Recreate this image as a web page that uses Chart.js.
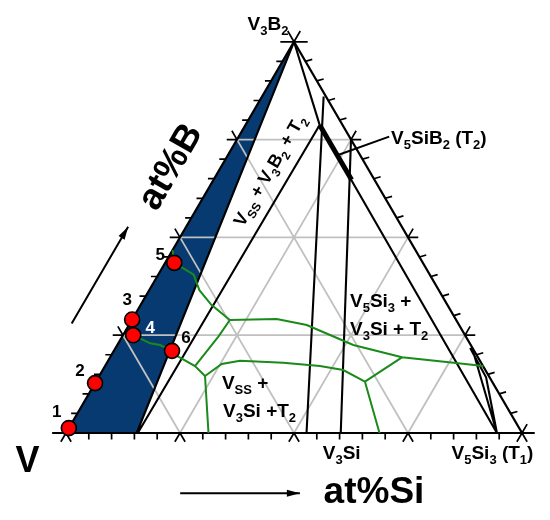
<!DOCTYPE html>
<html>
<head>
<meta charset="utf-8">
<script src="https://cdn.jsdelivr.net/npm/chart.js@4.4.1/dist/chart.umd.min.js"></script>
<style>body{margin:0;background:#fff}</style>
</head>
<body>
<canvas id="ternChart" width="550" height="520"></canvas>
<script>
// all compositions are [at% Si, at% B], V is the balance
var span = 40;                       // corners: V, V-40Si, V-40B (V3B2)
var gridSteps = [10, 20, 30];
var minorSteps = [2, 4, 6, 8, 12, 14, 16, 18, 22, 24, 26, 28, 32, 34, 36, 38];

var ssField = [[0, 0], [6.2, 0], [0, 40]];            // Vss + V3B2 (blue)
var tieVssT2 = [[6.3, 0], [6.5, 31.5]];
var tieV3B2T2 = [[0, 40], [6.5, 31.5]];
var tieT2T1 = [[6.5, 31.5], [37.8, 0]];
var t2Range = [[6.5, 31.5], [12.1, 25.9]];
var tieA = [[5.4, 34.4], [21.1, 0]];
var tieB = [[10, 30], [24.1, 0]];
var t1Left = [[31.2, 8.8], [37.8, 0]];
var t1Right = [[31.1, 8.7], [34.0, 5.7], [37.8, 0]];
var t2Pointer = [[13.2, 30.3], [9.6, 28.4]];

// liquidus valleys
var valley1 = [[0, 18.7], [0.8, 17.4], [3.1, 16.2], [4.4, 14.6], [6.2, 13.1], [8.6, 11.55]];
var valley2 = [[8.6, 11.55], [12.65, 11.66], [15.6, 11.04], [18.15, 10.02], [20.7, 9.0], [25.6, 7.74], [30.4, 7.19], [33.2, 6.85]];
var valley3 = [[8.6, 11.55], [8.44, 9.85], [7.89, 6.85]];
var valley4 = [[0, 11.6], [0.9, 10.0], [2.8, 9.17], [3.75, 9.0], [5.1, 8.4], [5.95, 7.8], [7.89, 6.85], [9.28, 5.83]];
var valley5 = [[9.28, 5.83], [12.5, 0]];
var valley6 = [[9.28, 5.83], [10.13, 7.06], [11.56, 7.39], [15.46, 7.19], [18.85, 6.85], [21.1, 6.44], [23.6, 5.25]];
var valley7 = [[23.6, 5.25], [25.6, 7.74]];
var valley8 = [[23.6, 5.25], [27.5, 0]];

var alloyNames = ['1', '2', '3', '4', '5', '6'];
var alloySi = [0, 0, 0, 0.9, 0.8, 5.1];
var alloyB = [0.5, 5.1, 11.6, 10.0, 17.4, 8.4];

var arrowSi = [[13.1, -6.17], [23.6, -6.17]];
var arrowB = [[-5.1, 11.2], [-5.1, 21.1]];

function tern(p) { return { x: p[0] + p[1] / 2, y: p[1] }; }
function path(pts) { return pts.map(tern); }
function multi(list) {
  var out = [];
  list.forEach(function (pts, i) {
    if (i) out.push({ x: null, y: null });
    out = out.concat(path(pts));
  });
  return out;
}

// lattice
var gridSegs = [];
gridSteps.forEach(function (s) {
  gridSegs.push([[0, s], [span - s, s]]);
  gridSegs.push([[s, 0], [s, span - s]]);
  gridSegs.push([[s, 0], [0, s]]);
});

// crosses at the 10% marks and the corners
var majorSegs = [[[0, 0], [-1.2, 0]], [[span, 0], [span + 1.1, 0]], [[span, 0], [span, 0.9]],
  [[-1.2, span], [1.2, span]], [[0, span], [0, span + 1.1]], [[0, span], [-1.1, span + 1.1]]];
[0].concat(gridSteps, [span]).forEach(function (s) {
  majorSegs.push([[s, 0], [s, -0.9]]);
  majorSegs.push([[s, 0], [s + 0.9, -0.9]]);
});
gridSteps.forEach(function (b) {
  majorSegs.push([[0, b], [-0.9, b]]);
  majorSegs.push([[0, b], [-0.9, b + 0.9]]);
  majorSegs.push([[span - b, b], [span - b + 0.9, b]]);
  majorSegs.push([[span - b, b], [span - b, b + 0.9]]);
});
var minorSegs = [];
minorSteps.forEach(function (s) {
  minorSegs.push([[s, 0], [s + 0.33, -0.66]]);
  minorSegs.push([[0, s], [-0.55, s]]);
  minorSegs.push([[span - s, s], [span - s + 0.5, s + 0.2]]);
});

function lines(data, color, width, order) {
  return { data: data, borderColor: color, borderWidth: width, pointRadius: 0,
    fill: false, tension: 0, spanGaps: false, order: order, borderCapStyle: 'butt' };
}

var alloys = alloySi.map(function (s, i) { return tern([s, alloyB[i]]); });

var texts = [
  { at: [-3.24, 41.92], t: 'V_3B_2', size: 19, align: 'center' },
  { at: [13.38, 30.27], t: 'V_5SiB_2 (T_2)', size: 19, align: 'left' },
  { at: [4.36, 26.89], t: 'V_{SS} + V_3B_2 + T_2', size: 18, align: 'center', angle: -60 },
  { at: [25.15, -1.94], t: 'V_3Si', size: 19, align: 'center' },
  { at: [38.38, -1.94], t: 'V_5Si_3 (T_1)', size: 19, align: 'center' },
  { at: [-2.05, -2.66], t: 'V', size: 36, align: 'center' },
  { at: [29.93, -5.83], t: 'at%Si', size: 37, align: 'center' },
  { at: [-4.69, 27.35], t: 'at%B', size: 37, align: 'center', angle: -60 },
  { at: [18.11, 13.6], t: 'V_5Si_3 +', size: 19, align: 'left' },
  { at: [19.54, 10.74], t: 'V_3Si + T_2', size: 19, align: 'left' },
  { at: [11.07, 5.21], t: 'V_{SS} +', size: 19, align: 'left' },
  { at: [12.6, 2.35], t: 'V_3Si +T_2', size: 19, align: 'left' }
];
var numOffsets = [[-12, -17], [-15, -13], [-5, -21], [17, -8], [-14, -9], [14, -14]];

function parseRich(s) {
  var parts = [], i = 0, cur = '';
  while (i < s.length) {
    if (s[i] === '_') {
      if (cur) parts.push([cur, 0]); cur = '';
      if (s[i + 1] === '{') {
        var j = s.indexOf('}', i);
        parts.push([s.slice(i + 2, j), 1]); i = j + 1;
      } else { parts.push([s[i + 1], 1]); i += 2; }
    } else { cur += s[i]; i++; }
  }
  if (cur) parts.push([cur, 0]);
  return parts;
}

function drawRich(ctx, str, x, y, size, align, color, angle) {
  var parts = parseRich(str), sub = Math.round(size * 0.68), w = 0;
  function font(s) { return 'bold ' + s + 'px "Liberation Sans", Arial, sans-serif'; }
  parts.forEach(function (p) { ctx.font = font(p[1] ? sub : size); w += ctx.measureText(p[0]).width; });
  ctx.save();
  ctx.translate(x, y);
  if (angle) ctx.rotate(angle * Math.PI / 180);
  var cx = align === 'center' ? -w / 2 : 0;
  ctx.fillStyle = color || '#000';
  ctx.textAlign = 'left';
  ctx.textBaseline = 'alphabetic';
  parts.forEach(function (p) {
    ctx.font = font(p[1] ? sub : size);
    ctx.fillText(p[0], cx, size * 0.36 + (p[1] ? size * 0.28 : 0));
    cx += ctx.measureText(p[0]).width;
  });
  ctx.restore();
}

function arrowHead(ctx, xs, ys, seg) {
  var a = tern(seg[0]), b = tern(seg[1]);
  var x0 = xs.getPixelForValue(a.x), y0 = ys.getPixelForValue(a.y);
  var x1 = xs.getPixelForValue(b.x), y1 = ys.getPixelForValue(b.y);
  var ang = Math.atan2(y1 - y0, x1 - x0), L = 13, W = 3.5;
  ctx.save();
  ctx.translate(x1, y1);
  ctx.rotate(ang);
  ctx.beginPath();
  ctx.moveTo(0, 0); ctx.lineTo(-L, -W); ctx.lineTo(-L, W); ctx.closePath();
  ctx.fillStyle = '#000';
  ctx.fill();
  ctx.restore();
}

var labelPlugin = {
  id: 'ternLabels',
  afterDatasetsDraw: function (chart) {
    var ctx = chart.ctx, xs = chart.scales.x, ys = chart.scales.y;
    texts.forEach(function (t) {
      var p = tern(t.at);
      drawRich(ctx, t.t, xs.getPixelForValue(p.x), ys.getPixelForValue(p.y), t.size, t.align, '#000', t.angle);
    });
    alloys.forEach(function (p, i) {
      drawRich(ctx, alloyNames[i], xs.getPixelForValue(p.x) + numOffsets[i][0],
        ys.getPixelForValue(p.y) + numOffsets[i][1], 17, 'center', i === 3 ? '#fff' : '#000');
    });
    arrowHead(ctx, xs, ys, arrowSi);
    arrowHead(ctx, xs, ys, arrowB);
  }
};

var ctx = document.getElementById('ternChart');
var ternChart = new Chart(ctx, {
  type: 'line',
  data: {
    datasets: [
      { data: path(ssField.concat([ssField[0]])), fill: 'shape', backgroundColor: '#063a70',
        borderWidth: 0, pointRadius: 0, order: 9 },
      lines(multi(gridSegs), '#c0c0c0', 1.8, 8),
      lines(multi([[[0, 0], [span, 0], [0, span], [0, 0]]]), '#000', 2.2, 4),
      lines(multi([[[-1.2, 0], [span + 1.1, 0]]]), '#000', 2.2, 4),
      lines(multi(majorSegs.concat(minorSegs)), '#000', 1.7, 4),
      lines(multi([[ssField[1], ssField[2]], tieVssT2, tieV3B2T2, tieT2T1, tieA, tieB, t1Left, t1Right]), '#000', 2.1, 4),
      lines(multi([t2Range]), '#000', 5, 3),
      lines(multi([t2Pointer, arrowSi, arrowB]), '#000', 2, 3),
      lines(multi([valley1, valley2, valley3, valley4, valley5, valley6, valley7, valley8]), '#1a8a1a', 2, 2),
      { data: alloys, showLine: false, pointRadius: 7.5, pointBackgroundColor: '#ff0000',
        pointBorderColor: '#000', pointBorderWidth: 1.6, order: 0 }
    ]
  },
  options: {
    responsive: false,
    animation: false,
    layout: { padding: 0, autoPadding: false },
    plugins: { legend: { display: false }, tooltip: { enabled: false } },
    scales: {
      x: { type: 'linear', min: -5.789, max: 42.456, display: false },
      y: { type: 'linear', min: -8.896, max: 44.274, display: false }
    }
  },
  plugins: [labelPlugin]
});
</script>
</body>
</html>
